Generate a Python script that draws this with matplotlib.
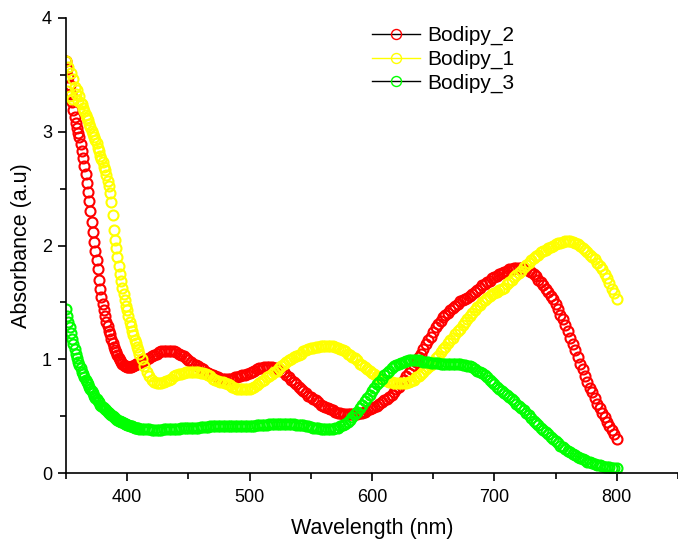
import matplotlib
matplotlib.use("Agg")
import matplotlib.pyplot as plt
from matplotlib.lines import Line2D

plt.rcParams['font.family'] = ['Liberation Sans', 'DejaVu Sans']

# wavelength grid: 1 nm steps on the steep edge, 2 nm steps after
wl = list(range(350, 410)) + list(range(410, 801, 2))

bodipy_2 = [
    3.62, 3.55, 3.48, 3.41, 3.33, 3.26, 3.19, 3.13, 3.08, 3.03,
    2.99, 2.95, 2.89, 2.83, 2.77, 2.70, 2.63, 2.55, 2.47, 2.39,
    2.30, 2.21, 2.12, 2.03, 1.95, 1.87, 1.79, 1.70, 1.62, 1.55,
    1.49, 1.43, 1.38, 1.33, 1.29, 1.25, 1.22, 1.18, 1.14, 1.11,
    1.08, 1.06, 1.04, 1.01, 0.99, 0.98, 0.96, 0.95, 0.94, 0.94,
    0.93, 0.93, 0.93, 0.93, 0.94, 0.94, 0.95, 0.96, 0.96, 0.97,
    # 410 ->
    0.98, 0.98, 0.99, 1.00, 1.01, 1.03, 1.04, 1.05, 1.06, 1.07,
    1.07, 1.07, 1.07, 1.07, 1.07, 1.06, 1.05, 1.04, 1.03, 1.01,
    0.99, 0.98, 0.96, 0.95, 0.94, 0.92, 0.91, 0.89, 0.88, 0.87,
    0.86, 0.85, 0.84, 0.83, 0.83, 0.83, 0.83, 0.83, 0.83, 0.84,
    0.84, 0.85, 0.86, 0.86, 0.87, 0.88, 0.89, 0.90, 0.91, 0.92,
    0.92, 0.93, 0.93, 0.93, 0.93, 0.92, 0.92, 0.91, 0.90, 0.89,
    0.86, 0.84, 0.82, 0.80, 0.78, 0.76, 0.74, 0.72, 0.70, 0.68,
    0.67, 0.65, 0.64, 0.62, 0.60, 0.59, 0.58, 0.57, 0.56, 0.55,
    0.54, 0.53, 0.53, 0.52, 0.52, 0.52, 0.52, 0.52, 0.52, 0.52,
    0.53, 0.53, 0.54, 0.55, 0.56, 0.57, 0.58, 0.59, 0.61, 0.62,
    0.64, 0.65, 0.67, 0.69, 0.71, 0.74, 0.76, 0.79, 0.82, 0.85,
    0.88, 0.91, 0.95, 0.98, 1.02, 1.05, 1.09, 1.13, 1.17, 1.20,
    1.24, 1.28, 1.31, 1.34, 1.37, 1.39, 1.41, 1.43, 1.45, 1.47,
    1.49, 1.51, 1.52, 1.53, 1.54, 1.56, 1.57, 1.59, 1.61, 1.63,
    1.65, 1.66, 1.68, 1.69, 1.71, 1.72, 1.73, 1.75, 1.76, 1.77,
    1.78, 1.79, 1.79, 1.80, 1.80, 1.80, 1.80, 1.80, 1.79, 1.78,
    1.77, 1.75, 1.73, 1.70, 1.68, 1.65, 1.62, 1.59, 1.56, 1.53,
    1.49, 1.44, 1.39, 1.35, 1.30, 1.25, 1.19, 1.13, 1.08, 1.02,
    0.96, 0.91, 0.85, 0.80, 0.75, 0.71, 0.66, 0.61, 0.57, 0.53,
    0.49, 0.45, 0.41, 0.38, 0.34, 0.30,
]

bodipy_1 = [
    3.62, 3.36, 3.57, 3.31, 3.52, 3.29, 3.46, 3.39, 3.33, 3.37,
    3.27, 3.31, 3.25, 3.24, 3.21, 3.18, 3.15, 3.12, 3.10, 3.07,
    3.04, 3.01, 2.98, 2.95, 2.93, 2.90, 2.86, 2.83, 2.79, 2.76,
    2.73, 2.69, 2.66, 2.62, 2.57, 2.52, 2.46, 2.38, 2.27, 2.14,
    2.05, 1.98, 1.90, 1.82, 1.75, 1.69, 1.63, 1.57, 1.52, 1.47,
    1.43, 1.38, 1.33, 1.29, 1.25, 1.21, 1.17, 1.14, 1.11, 1.08,
    # 410 ->
    1.05, 1.00, 0.94, 0.89, 0.85, 0.82, 0.80, 0.79, 0.79, 0.79,
    0.80, 0.81, 0.82, 0.83, 0.85, 0.86, 0.87, 0.87, 0.88, 0.89,
    0.89, 0.89, 0.89, 0.89, 0.89, 0.88, 0.88, 0.87, 0.86, 0.85,
    0.83, 0.82, 0.81, 0.80, 0.80, 0.79, 0.78, 0.77, 0.76, 0.75,
    0.74, 0.74, 0.74, 0.74, 0.74, 0.74, 0.75, 0.76, 0.77, 0.79,
    0.81, 0.82, 0.84, 0.85, 0.87, 0.89, 0.90, 0.92, 0.94, 0.96,
    0.98, 0.99, 1.00, 1.02, 1.03, 1.04, 1.05, 1.07, 1.08, 1.09,
    1.10, 1.10, 1.11, 1.11, 1.12, 1.12, 1.12, 1.12, 1.12, 1.12,
    1.11, 1.10, 1.09, 1.08, 1.07, 1.05, 1.04, 1.02, 1.01, 0.99,
    0.96, 0.95, 0.93, 0.91, 0.90, 0.88, 0.87, 0.85, 0.84, 0.83,
    0.82, 0.81, 0.80, 0.80, 0.79, 0.79, 0.79, 0.79, 0.79, 0.79,
    0.80, 0.81, 0.82, 0.84, 0.85, 0.87, 0.89, 0.91, 0.93, 0.95,
    0.98, 1.01, 1.03, 1.06, 1.09, 1.11, 1.14, 1.17, 1.19, 1.22,
    1.25, 1.27, 1.30, 1.33, 1.35, 1.38, 1.41, 1.43, 1.46, 1.48,
    1.50, 1.52, 1.54, 1.56, 1.57, 1.58, 1.59, 1.61, 1.62, 1.63,
    1.66, 1.68, 1.70, 1.72, 1.74, 1.76, 1.78, 1.81, 1.83, 1.85,
    1.87, 1.89, 1.91, 1.92, 1.94, 1.95, 1.96, 1.98, 1.99, 2.00,
    2.01, 2.02, 2.02, 2.03, 2.04, 2.04, 2.04, 2.03, 2.02, 2.01,
    2.00, 1.98, 1.96, 1.94, 1.92, 1.90, 1.88, 1.85, 1.82, 1.79,
    1.75, 1.71, 1.67, 1.62, 1.58, 1.53,
]

bodipy_3 = [
    1.44, 1.38, 1.33, 1.28, 1.23, 1.18, 1.13, 1.09, 1.05, 1.01,
    0.98, 0.95, 0.92, 0.89, 0.87, 0.84, 0.82, 0.80, 0.78, 0.76,
    0.74, 0.72, 0.70, 0.68, 0.66, 0.65, 0.63, 0.62, 0.60, 0.59,
    0.58, 0.57, 0.56, 0.55, 0.54, 0.53, 0.52, 0.51, 0.50, 0.49,
    0.48, 0.475, 0.47, 0.46, 0.455, 0.45, 0.445, 0.44, 0.435, 0.43,
    0.425, 0.42, 0.415, 0.41, 0.41, 0.405, 0.40, 0.40, 0.395, 0.395,
    # 410 ->
    0.39, 0.39, 0.39, 0.385, 0.385, 0.38, 0.38, 0.38, 0.38, 0.38,
    0.385, 0.385, 0.39, 0.39, 0.39, 0.39, 0.39, 0.395, 0.395, 0.395,
    0.40, 0.40, 0.40, 0.40, 0.40, 0.405, 0.405, 0.405, 0.405, 0.41,
    0.41, 0.41, 0.41, 0.41, 0.41, 0.41, 0.41, 0.41, 0.41, 0.41,
    0.41, 0.41, 0.41, 0.41, 0.41, 0.41, 0.415, 0.415, 0.42, 0.42,
    0.425, 0.425, 0.425, 0.43, 0.43, 0.43, 0.43, 0.43, 0.43, 0.43,
    0.43, 0.43, 0.43, 0.43, 0.425, 0.425, 0.42, 0.42, 0.415, 0.41,
    0.405, 0.40, 0.40, 0.395, 0.39, 0.39, 0.39, 0.385, 0.385, 0.385,
    0.393, 0.40, 0.41, 0.42, 0.43, 0.45, 0.47, 0.49, 0.52, 0.54,
    0.57, 0.60, 0.63, 0.66, 0.69, 0.72, 0.75, 0.78, 0.80, 0.83,
    0.86, 0.88, 0.90, 0.92, 0.94, 0.95, 0.96, 0.97, 0.98, 0.985,
    0.99, 0.99, 0.99, 0.99, 0.99, 0.985, 0.98, 0.98, 0.975, 0.97,
    0.97, 0.97, 0.965, 0.96, 0.96, 0.96, 0.96, 0.96, 0.96, 0.96,
    0.96, 0.96, 0.95, 0.95, 0.945, 0.94, 0.93, 0.915, 0.90, 0.885,
    0.875, 0.86, 0.84, 0.82, 0.80, 0.78, 0.76, 0.74, 0.72, 0.70,
    0.69, 0.67, 0.65, 0.63, 0.61, 0.59, 0.57, 0.55, 0.53, 0.51,
    0.48, 0.46, 0.44, 0.42, 0.40, 0.38, 0.36, 0.34, 0.32, 0.30,
    0.28, 0.26, 0.24, 0.225, 0.21, 0.195, 0.185, 0.17, 0.155, 0.145,
    0.13, 0.12, 0.11, 0.10, 0.093, 0.087, 0.08, 0.073, 0.067, 0.06,
    0.057, 0.054, 0.05, 0.047, 0.044, 0.04,
]

series = [
    ('Bodipy_2', bodipy_2, '#FF0000', 'black'),
    ('Bodipy_1', bodipy_1, '#FFFF00', '#FFFF00'),
    ('Bodipy_3', bodipy_3, '#00FF00', 'black'),
]

fig = plt.figure(figsize=(6.78, 5.47), dpi=100)
ax = fig.add_axes([66/678, 74/547, 612/678, 455/547])

handles = []
for name, vals, col, linecol in series:
    ax.plot(wl, vals, linestyle='none', marker='o', markersize=7.2,
            markerfacecolor='none', markeredgecolor=col, markeredgewidth=1.5)
    handles.append(Line2D([], [], color=linecol, lw=1.0, marker='o',
                          markersize=7.2, markerfacecolor='none',
                          markeredgecolor=col, markeredgewidth=1.0))

ax.set_xlim(350, 848)
ax.set_ylim(0, 4)
ax.set_xticks([400, 500, 600, 700, 800])
ax.set_xticks([350, 450, 550, 650, 750, 850], minor=True)
ax.set_yticks([0, 1, 2, 3, 4])
ax.set_yticks([0.5, 1.5, 2.5, 3.5], minor=True)

for s in ['top', 'right']:
    ax.spines[s].set_visible(False)
for s in ['left', 'bottom']:
    ax.spines[s].set_linewidth(1.2)

ax.tick_params(which='major', direction='out', length=6, width=1.2,
               labelsize=13)
ax.tick_params(axis='x', which='major', pad=5.5)
ax.tick_params(axis='y', which='major', pad=4)
ax.tick_params(which='minor', direction='out', length=4, width=1.2)

ax.set_xlabel('Wavelength (nm)', fontsize=15.5, labelpad=9)
ax.set_ylabel('Absorbance (a.u)', fontsize=15.5, labelpad=7)

fig.legend(handles, [s[0] for s in series], loc='upper left',
           bbox_to_anchor=(372/678, 1 - 26/547), frameon=False,
           fontsize=15, handlelength=2.3, handletextpad=0.35,
           labelspacing=0.22, borderpad=0, borderaxespad=0)

fig.savefig('out.png', dpi=100)
